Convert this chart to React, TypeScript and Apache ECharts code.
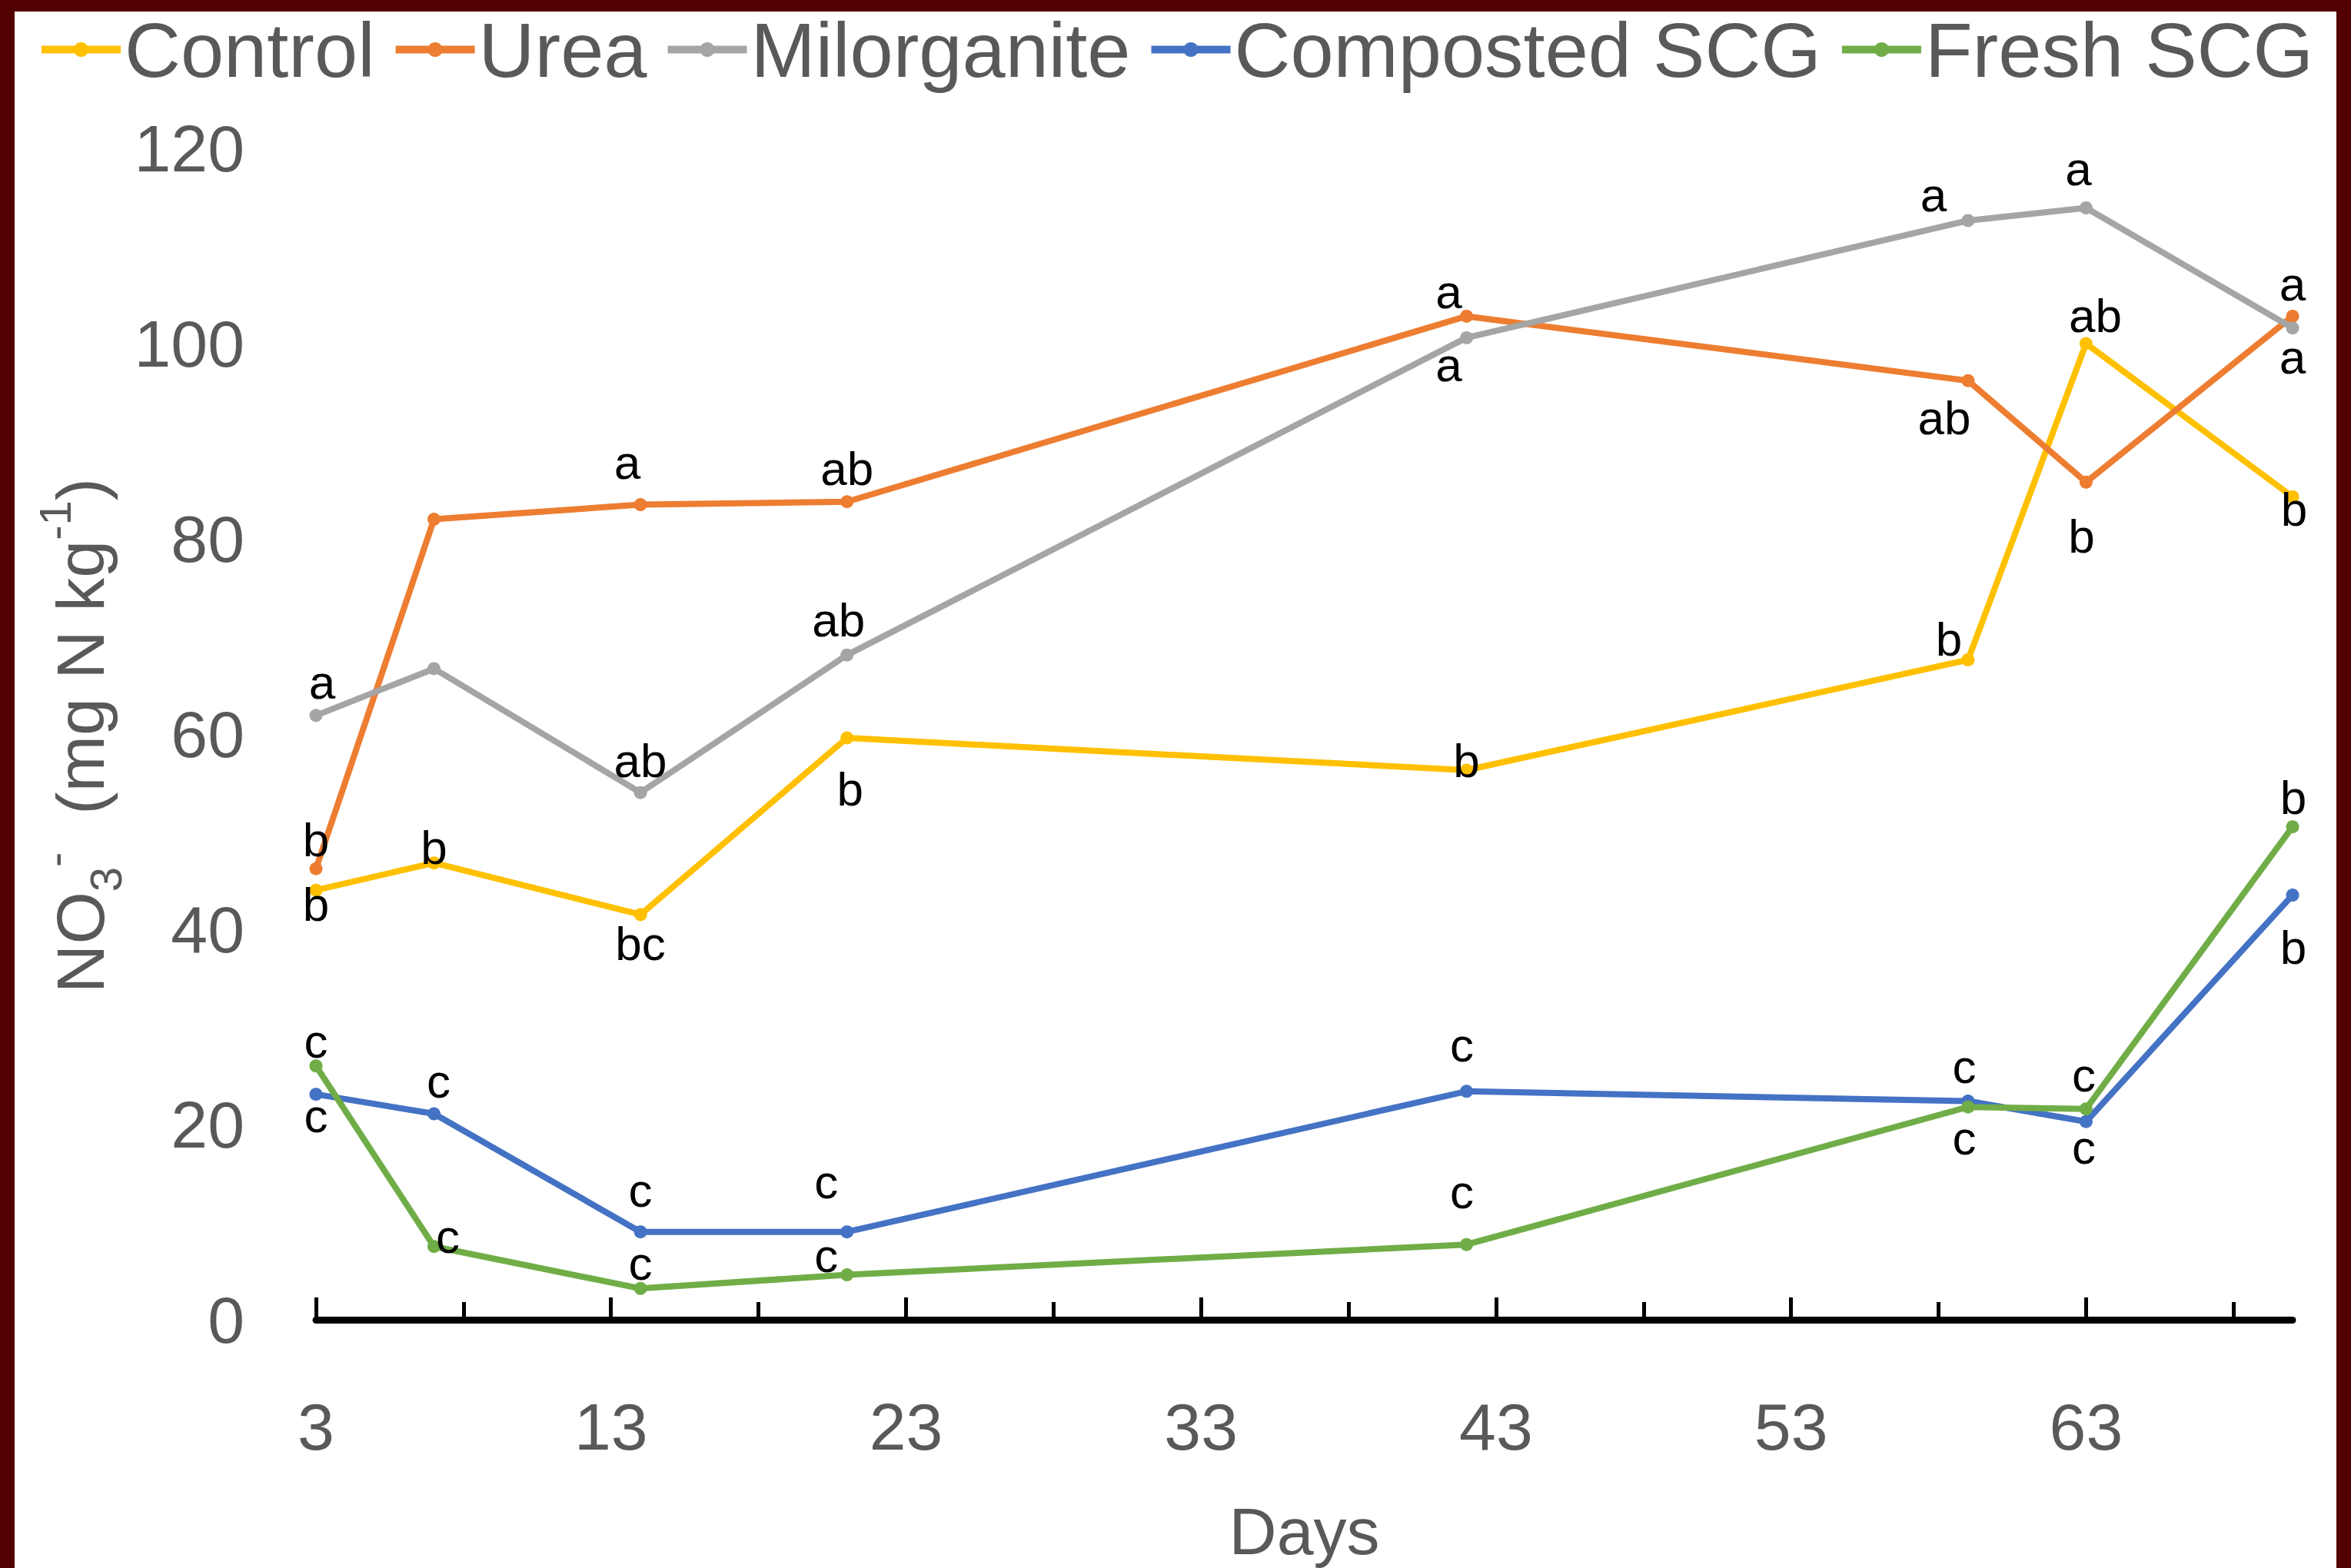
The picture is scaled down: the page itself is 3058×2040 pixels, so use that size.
import React, { useEffect, useRef } from "react";
import * as echarts from "echarts";

// ---------- data ----------
const days = [3, 7, 14, 21, 42, 59, 63, 70];
const seriesNames = ["Control", "Urea", "Milorganite", "Composted SCG", "Fresh SCG"];
const seriesColors = ["#FFC000", "#ED7D31", "#A5A5A5", "#4472C4", "#70AD47"];

const controlValues = [44.0, 46.8, 41.5, 59.6, 56.3, 67.6, 100.0, 84.3];
const ureaValues = [46.2, 82.0, 83.5, 83.8, 102.8, 96.2, 85.8, 102.8];
const milorganiteValues = [61.9, 66.7, 54.0, 68.1, 100.6, 112.6, 113.9, 101.6];
const compostedValues = [23.1, 21.1, 9.0, 9.0, 23.4, 22.4, 20.3, 43.5];
const freshValues = [26.0, 7.5, 3.2, 4.6, 7.7, 21.8, 21.6, 50.5];

// significance letters for each point ("" = no letter)
const controlLetters = ["b", "b", "bc", "b", "b", "b", "ab", "b"];
const ureaLetters = ["b", "", "a", "ab", "a", "ab", "b", "a"];
const milorganiteLetters = ["a", "", "ab", "ab", "a", "a", "a", "a"];
const compostedLetters = ["c", "c", "c", "c", "c", "c", "c", "b"];
const freshLetters = ["c", "c", "c", "c", "c", "c", "c", "b"];

// letter placement relative to its point (px)
const controlLabelShift = [[0, 18], [0, -20], [0, 38], [4, 66], [0, -12], [-25, -27], [12, -37], [2, 16]];
const ureaLabelShift = [[0, -38], [0, 0], [-17, -55], [0, -43], [-23, -32], [-31, 48], [-6, 70], [0, -42]];
const milorganiteLabelShift = [[8, -43], [0, 0], [0, -42], [-11, -46], [-23, 35], [-45, -33], [-10, -51], [0, 38]];
const compostedLabelShift = [[0, 28], [6, -43], [0, -54], [-27, -65], [-6, -60], [-5, -45], [-3, 33], [1, 68]];
const freshLabelShift = [[0, -32], [18, -13], [0, -33], [-27, -25], [-6, -69], [-5, 40], [-3, -44], [1, -38]];

const xMajorTicks = [3, 13, 23, 33, 43, 53, 63];
const xMinorTicks = [8, 18, 28, 38, 48, 58, 68];
const yTickInterval = 20;

const FONT = "'Liberation Sans', Arial, sans-serif";
const GREY_TEXT = "#595959";
const FRAME = "#520000";

const allValues = [controlValues, ureaValues, milorganiteValues, compostedValues, freshValues];
const allLetters = [controlLetters, ureaLetters, milorganiteLetters, compostedLetters, freshLetters];
const allShifts = [controlLabelShift, ureaLabelShift, milorganiteLabelShift, compostedLabelShift, freshLabelShift];

export default function App() {
  const ref = useRef<HTMLDivElement>(null);

  useEffect(() => {
    if (!ref.current) return;
    const chart = echarts.init(ref.current, null, { renderer: "svg" });

    const series = seriesNames.map((name, s) => ({
      name,
      type: "line",
      symbol: "circle",
      symbolSize: 17,
      lineStyle: { color: seriesColors[s], width: 8 },
      itemStyle: { color: seriesColors[s] },
      z: 2 + s,
      label: {
        show: true,
        position: "inside",
        fontSize: 62,
        color: "#000",
        fontFamily: FONT,
      },
      data: days.map((d, i) => {
        const letter = allLetters[s][i];
        return {
          value: [d, allValues[s][i]],
          label: letter
            ? { show: true, formatter: letter, offset: allShifts[s][i] }
            : { show: false },
        };
      }),
    }));

    chart.setOption({
      animation: false,
      backgroundColor: "#ffffff",
      legend: {
        data: seriesNames,
        top: 14,
        left: "center",
        padding: 0,
        itemWidth: 103,
        itemHeight: 24,
        itemGap: 22,
        lineStyle: { width: 10 },
        textStyle: { fontSize: 101, color: GREY_TEXT, fontFamily: FONT },
      },
      grid: { left: 411, right: 76, top: 193, bottom: 322, containLabel: false },
      xAxis: [
        {
          type: "value",
          min: 3,
          max: 70,
          axisLine: { show: true, onZero: false, lineStyle: { color: "#000", width: 9 } },
          axisTick: {
            show: true,
            inside: true,
            length: 29,
            customValues: xMajorTicks,
            lineStyle: { color: "#000", width: 5 },
          },
          axisLabel: {
            customValues: xMajorTicks,
            margin: 96,
            fontSize: 86,
            color: GREY_TEXT,
            fontFamily: FONT,
          },
          splitLine: { show: false },
          name: "Days",
          nameLocation: "middle",
          nameGap: 232,
          nameTextStyle: { fontSize: 86, color: GREY_TEXT, fontFamily: FONT },
        },
        {
          type: "value",
          min: 3,
          max: 70,
          position: "bottom",
          axisLine: { show: false, onZero: false },
          axisTick: {
            show: true,
            inside: true,
            length: 23,
            customValues: xMinorTicks,
            lineStyle: { color: "#000", width: 5 },
          },
          axisLabel: { show: false },
          splitLine: { show: false },
        },
      ],
      yAxis: {
        type: "value",
        min: 0,
        max: 120,
        interval: yTickInterval,
        axisLine: { show: false },
        axisTick: { show: false },
        splitLine: { show: false },
        axisLabel: { margin: 93, fontSize: 86, color: GREY_TEXT, fontFamily: FONT },
      },
      series,
      graphic: [
        {
          type: "text",
          x: 104,
          y: 957,
          rotation: Math.PI / 2,
          style: {
            text: "{n|NO}{sub|3}{sup|-}{n|  (mg N kg}{sup|-1}{n|)}",
            align: "center",
            verticalAlign: "middle",
            fill: GREY_TEXT,
            fontFamily: FONT,
            rich: {
              n: { fontSize: 88, lineHeight: 124, fill: GREY_TEXT, fontFamily: FONT },
              sub: { fontSize: 58, lineHeight: 62, verticalAlign: "bottom", fill: GREY_TEXT, fontFamily: FONT },
              sup: { fontSize: 58, lineHeight: 82, verticalAlign: "top", fill: GREY_TEXT, fontFamily: FONT },
            },
          },
        },
        { type: "rect", z: 100, shape: { x: 0, y: 0, width: 19, height: 2040 }, style: { fill: FRAME } },
        { type: "rect", z: 100, shape: { x: 0, y: 0, width: 3058, height: 15 }, style: { fill: FRAME } },
        { type: "rect", z: 100, shape: { x: 3039, y: 0, width: 19, height: 2040 }, style: { fill: FRAME } },
      ],
    });

    return () => chart.dispose();
  }, []);

  return (
    <div
      ref={ref}
      style={{ position: "fixed", left: 0, top: 0, width: 3058, height: 2040, background: "#fff" }}
    />
  );
}
